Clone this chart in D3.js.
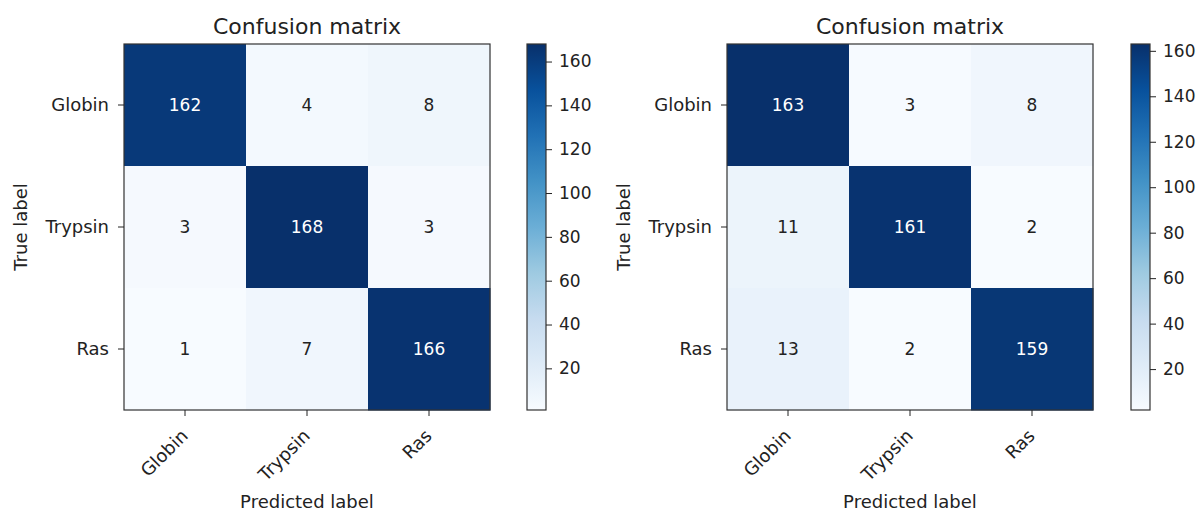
<!DOCTYPE html>
<html>
<head>
<meta charset="utf-8">
<script src="https://cdn.jsdelivr.net/npm/d3@7/dist/d3.min.js"></script>
<style>
  html, body { margin: 0; padding: 0; background: #fff; }
  svg { display: block; }
  text { font-family: "DejaVu Sans", sans-serif; fill: #222; }
</style>
</head>
<body>
<svg id="chart" width="1197" height="511"></svg>
<script>
// Class names shared by both matrices
const categories = ["Globin", "Trypsin", "Ras"];

// Confusion counts, rows = true label, columns = predicted label
const matrixLeft = [
  [162, 4, 8],
  [3, 168, 3],
  [1, 7, 166]
];
const matrixRight = [
  [163, 3, 8],
  [11, 161, 2],
  [13, 2, 159]
];

// Colorbar tick values
const colorbarTicks = [20, 40, 60, 80, 100, 120, 140, 160];

// ColorBrewer "Blues" anchor colours
const bluesStops = ["#f7fbff", "#deebf7", "#c6dbef", "#9ecae1", "#6baed6",
                    "#4292c6", "#2171b5", "#08519c", "#08306b"];

const chartTitle = "Confusion matrix";
const xAxisLabel = "Predicted label";
const yAxisLabel = "True label";

const svg = d3.select("#chart");
const blues = d3.piecewise(d3.interpolateRgb, bluesStops);

const TICK_FONT = 18;
const NUM_FONT = 17;
const TITLE_FONT = 22;
const INK = "#222";

function drawPanel(matrix, layout, id) {
  const { x0, y0, size, cbX, cbW } = layout;
  const values = matrix.flat();
  const vmin = d3.min(values), vmax = d3.max(values);
  const color = d3.scaleSequential(blues).domain([vmin, vmax]);
  const thresh = vmax / 2;

  const x = d3.scaleBand().domain(categories).range([x0, x0 + size]);
  const y = d3.scaleBand().domain(categories).range([y0, y0 + size]);

  const g = svg.append("g");

  // heatmap cells
  const cells = [];
  matrix.forEach((row, i) => row.forEach((v, j) => cells.push({ r: categories[i], c: categories[j], v })));

  g.selectAll("rect.cell").data(cells).join("rect")
    .attr("class", "cell")
    .attr("x", d => x(d.c))
    .attr("y", d => y(d.r))
    .attr("width", x.bandwidth() + 0.5)
    .attr("height", y.bandwidth() + 0.5)
    .attr("fill", d => color(d.v));

  // annotations
  g.selectAll("text.val").data(cells).join("text")
    .attr("class", "val")
    .attr("x", d => x(d.c) + x.bandwidth() / 2)
    .attr("y", d => y(d.r) + y.bandwidth() / 2)
    .attr("dy", "0.36em")
    .attr("text-anchor", "middle")
    .style("font-size", NUM_FONT + "px")
    .style("fill", d => d.v > thresh ? "#fff" : INK)
    .text(d => d.v);

  // frame
  g.append("rect")
    .attr("x", x0).attr("y", y0).attr("width", size).attr("height", size)
    .attr("fill", "none").attr("stroke", "#333").attr("stroke-width", 1.2);

  // y ticks
  categories.forEach(c => {
    const cy = y(c) + y.bandwidth() / 2;
    g.append("line").attr("x1", x0 - 6).attr("x2", x0).attr("y1", cy).attr("y2", cy)
      .attr("stroke", INK).attr("stroke-width", 1);
    g.append("text").attr("x", x0 - 15).attr("y", cy).attr("dy", "0.36em")
      .attr("text-anchor", "end").style("font-size", TICK_FONT + "px").text(c);
  });

  // x ticks with rotated labels
  categories.forEach(c => {
    const cx = x(c) + x.bandwidth() / 2;
    const yb = y0 + size;
    g.append("line").attr("x1", cx).attr("x2", cx).attr("y1", yb).attr("y2", yb + 6)
      .attr("stroke", INK).attr("stroke-width", 1);
    g.append("text")
      .attr("transform", `translate(${cx + 4},${yb + 27}) rotate(-45)`)
      .attr("text-anchor", "end").style("font-size", TICK_FONT + "px").text(c);
  });

  // title & axis labels
  g.append("text").attr("x", x0 + size / 2).attr("y", y0 - 10)
    .attr("text-anchor", "middle").style("font-size", TITLE_FONT + "px").text(chartTitle);
  g.append("text").attr("x", x0 + size / 2).attr("y", 508)
    .attr("text-anchor", "middle").style("font-size", TICK_FONT + "px").text(xAxisLabel);
  g.append("text")
    .attr("transform", `translate(${x0 - 97},${y0 + size / 2}) rotate(-90)`)
    .attr("text-anchor", "middle").style("font-size", TICK_FONT + "px").text(yAxisLabel);

  // colorbar
  const gradId = "grad-" + id;
  const grad = svg.append("defs").append("linearGradient")
    .attr("id", gradId).attr("x1", 0).attr("y1", 1).attr("x2", 0).attr("y2", 0);
  bluesStops.forEach((s, i) => {
    grad.append("stop").attr("offset", i / (bluesStops.length - 1)).attr("stop-color", s);
  });
  g.append("rect").attr("x", cbX).attr("y", y0).attr("width", cbW).attr("height", size)
    .attr("fill", `url(#${gradId})`).attr("stroke", "#333").attr("stroke-width", 1.2);

  const cbScale = d3.scaleLinear().domain([vmin, vmax]).range([y0 + size, y0]);
  const axis = d3.axisRight(cbScale).tickValues(colorbarTicks).tickSize(6).tickPadding(7);
  const ag = g.append("g").attr("transform", `translate(${cbX + cbW},0)`).call(axis);
  ag.select(".domain").remove();
  ag.selectAll("line").attr("stroke", INK);
  ag.selectAll("text").style("font-size", NUM_FONT + "px").style("font-family", "DejaVu Sans").attr("fill", INK);
}

drawPanel(matrixLeft, { x0: 124, y0: 44, size: 366, cbX: 527, cbW: 19 }, "a");
drawPanel(matrixRight, { x0: 727, y0: 44, size: 366, cbX: 1131, cbW: 19 }, "b");
</script>
</body>
</html>
